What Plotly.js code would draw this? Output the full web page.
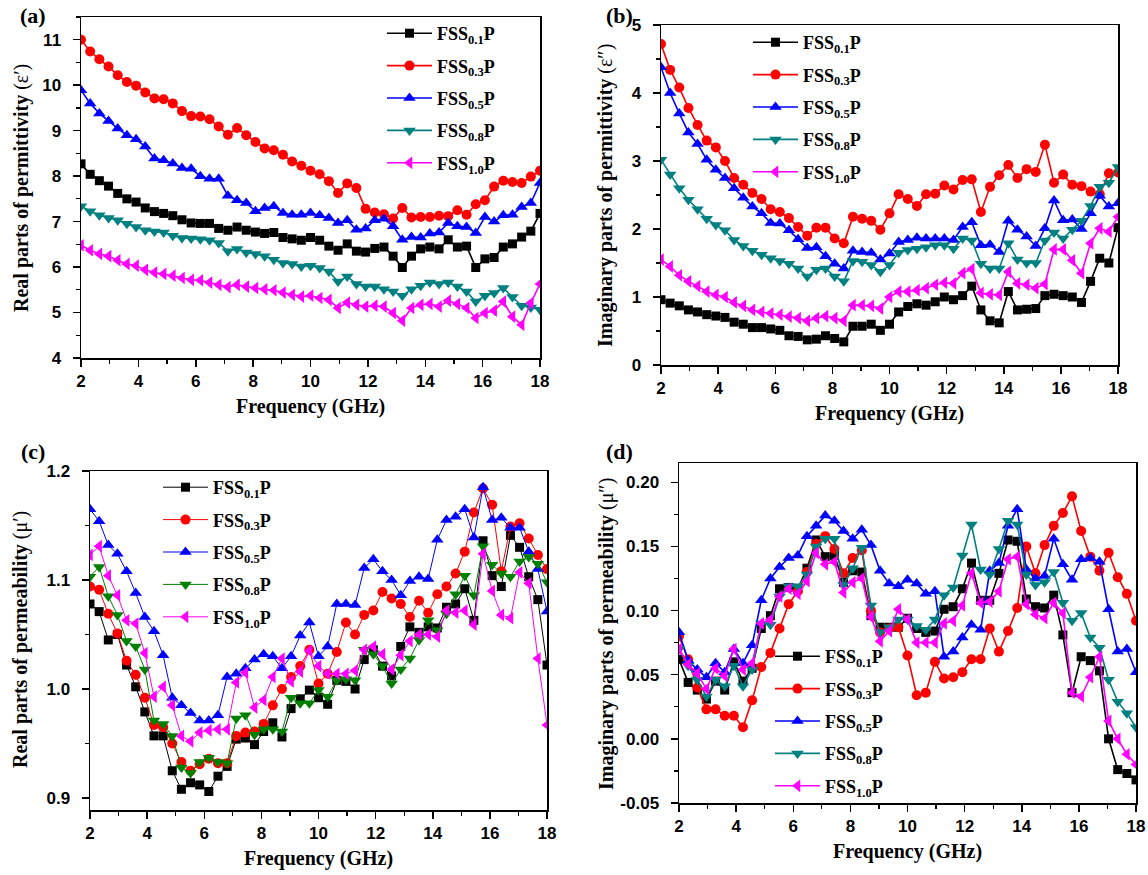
<!DOCTYPE html>
<html>
<head>
<meta charset="utf-8">
<script src="https://cdn.plot.ly/plotly-3.0.1.min.js"></script>
<style>
  html, body { margin: 0; padding: 0; background: #fff; }
  #chart { width: 1148px; height: 875px; }
</style>
</head>
<body>
<div id="chart"></div>
<script>
// Frequency sweep (GHz), 51 points from 2 to 18 GHz
const FREQ = [2.00, 2.32, 2.64, 2.96, 3.28, 3.60, 3.92, 4.24, 4.56, 4.88, 5.20, 5.52, 5.84, 6.16, 6.48, 6.80,
  7.12, 7.44, 7.76, 8.08, 8.40, 8.72, 9.04, 9.36, 9.68, 10.00, 10.32, 10.64, 10.96, 11.28, 11.60, 11.92,
  12.24, 12.56, 12.88, 13.20, 13.52, 13.84, 14.16, 14.48, 14.80, 15.12, 15.44, 15.76, 16.08, 16.40, 16.72,
  17.04, 17.36, 17.68, 18.00];

const SAMPLE_NAMES = ['FSS<sub>0.1</sub>P', 'FSS<sub>0.3</sub>P', 'FSS<sub>0.5</sub>P', 'FSS<sub>0.8</sub>P', 'FSS<sub>1.0</sub>P'];

// tick labels of the μ″ axis (plain hyphen for the negative value)
const MU_IM_TICKS = [-0.05, 0.00, 0.05, 0.10, 0.15, 0.20];
const MU_IM_TICK_TEXT = ['-0.05', '0.00', '0.05', '0.10', '0.15', '0.20'];

// (a) real permittivity ε′
const EPS_RE_01 = [8.27, 8.04, 7.90, 7.78, 7.62, 7.50, 7.43, 7.30, 7.22, 7.18, 7.13, 7.04, 6.97, 6.96, 6.96, 6.85, 6.81, 6.88, 6.81, 6.77, 6.74, 6.76, 6.65, 6.62, 6.59, 6.65,
  6.59, 6.46, 6.37, 6.51, 6.35, 6.33, 6.41, 6.44, 6.24, 5.99, 6.24, 6.40, 6.44, 6.40, 6.60, 6.44, 6.46, 5.99, 6.18, 6.21, 6.44, 6.51, 6.66, 6.79, 7.18];
const EPS_RE_03 = [11.00, 10.74, 10.57, 10.41, 10.22, 10.07, 9.99, 9.84, 9.71, 9.69, 9.60, 9.43, 9.32, 9.31, 9.25, 9.09, 8.91, 9.06, 8.90, 8.75, 8.61, 8.57, 8.47, 8.32, 8.23, 8.12,
  8.04, 7.89, 7.63, 7.84, 7.74, 7.28, 7.20, 7.16, 7.07, 7.30, 7.09, 7.10, 7.10, 7.13, 7.12, 7.25, 7.15, 7.38, 7.47, 7.77, 7.90, 7.87, 7.85, 7.99, 8.12];
const EPS_RE_05 = [9.89, 9.60, 9.38, 9.21, 9.05, 8.90, 8.81, 8.65, 8.39, 8.35, 8.28, 8.18, 8.16, 8.00, 7.94, 7.94, 7.57, 7.47, 7.41, 7.23, 7.30, 7.34, 7.19, 7.15, 7.15, 7.19,
  7.14, 7.08, 6.97, 7.03, 6.82, 6.85, 7.03, 7.06, 6.90, 6.60, 6.66, 6.65, 6.74, 6.76, 6.97, 6.90, 6.88, 6.75, 7.10, 7.00, 7.14, 7.15, 7.32, 7.41, 7.85];
const EPS_RE_08 = [7.34, 7.23, 7.14, 7.08, 7.03, 6.95, 6.88, 6.81, 6.78, 6.76, 6.69, 6.64, 6.63, 6.61, 6.59, 6.53, 6.35, 6.40, 6.32, 6.29, 6.24, 6.16, 6.09, 6.07, 6.01, 6.03,
  5.98, 5.90, 5.68, 5.79, 5.63, 5.57, 5.57, 5.51, 5.46, 5.37, 5.51, 5.59, 5.66, 5.63, 5.66, 5.57, 5.46, 5.24, 5.37, 5.43, 5.54, 5.34, 5.15, 5.11, 5.06];
const EPS_RE_10 = [6.48, 6.37, 6.29, 6.24, 6.15, 6.07, 6.03, 5.94, 5.88, 5.85, 5.81, 5.76, 5.72, 5.71, 5.66, 5.61, 5.56, 5.61, 5.57, 5.54, 5.51, 5.49, 5.44, 5.39, 5.35, 5.37,
  5.32, 5.28, 5.10, 5.22, 5.17, 5.13, 5.15, 5.13, 4.99, 4.82, 5.10, 5.17, 5.19, 5.13, 5.26, 5.19, 5.10, 4.88, 4.99, 5.04, 5.24, 4.91, 4.73, 5.21, 5.63];

// (b) imaginary permittivity ε″
const EPS_IM_01 = [0.96, 0.91, 0.87, 0.81, 0.78, 0.74, 0.72, 0.70, 0.63, 0.60, 0.55, 0.55, 0.53, 0.51, 0.43, 0.42, 0.37, 0.38, 0.43, 0.39, 0.34, 0.57, 0.57, 0.60, 0.51,
  0.60, 0.78, 0.86, 0.90, 0.88, 0.93, 1.00, 0.96, 1.02, 1.16, 0.81, 0.65, 0.62, 1.08, 0.81, 0.82, 0.83, 1.02, 1.04, 1.02, 1.00, 0.92, 1.23, 1.57, 1.50, 2.02];
const EPS_IM_03 = [4.72, 4.34, 4.08, 3.78, 3.53, 3.30, 3.20, 3.00, 2.75, 2.65, 2.53, 2.44, 2.29, 2.25, 2.16, 2.03, 1.90, 2.02, 2.02, 1.86, 1.79, 2.18, 2.15, 2.12, 1.99,
  2.23, 2.51, 2.44, 2.34, 2.51, 2.52, 2.64, 2.58, 2.72, 2.73, 2.25, 2.62, 2.79, 2.94, 2.75, 2.88, 2.84, 3.24, 2.68, 2.80, 2.65, 2.63, 2.55, 2.51, 2.82, 2.83];
const EPS_IM_05 = [4.38, 4.00, 3.70, 3.42, 3.25, 3.02, 2.87, 2.75, 2.60, 2.46, 2.33, 2.23, 2.09, 2.08, 1.98, 1.85, 1.72, 1.73, 1.60, 1.49, 1.42, 1.68, 1.66, 1.65, 1.55,
  1.64, 1.81, 1.84, 1.87, 1.86, 1.86, 1.86, 1.84, 2.03, 2.10, 1.76, 1.77, 1.66, 2.12, 1.99, 1.89, 1.75, 2.01, 2.42, 2.13, 2.14, 2.00, 2.23, 2.49, 2.33, 2.38];
const EPS_IM_08 = [3.02, 2.80, 2.60, 2.43, 2.29, 2.15, 2.06, 1.98, 1.84, 1.75, 1.68, 1.62, 1.57, 1.53, 1.49, 1.42, 1.30, 1.40, 1.42, 1.30, 1.23, 1.53, 1.52, 1.47, 1.37,
  1.47, 1.65, 1.69, 1.71, 1.73, 1.76, 1.76, 1.71, 1.86, 1.83, 1.49, 1.42, 1.42, 1.79, 1.55, 1.50, 1.50, 1.83, 1.95, 1.86, 1.99, 2.12, 2.34, 2.62, 2.68, 2.91];
const EPS_IM_10 = [1.55, 1.45, 1.32, 1.23, 1.16, 1.08, 1.03, 1.00, 0.92, 0.87, 0.81, 0.78, 0.76, 0.74, 0.71, 0.69, 0.65, 0.69, 0.72, 0.69, 0.65, 0.88, 0.88, 0.87, 0.83,
  1.00, 1.08, 1.08, 1.10, 1.13, 1.18, 1.21, 1.20, 1.35, 1.41, 1.06, 1.04, 1.03, 1.37, 1.20, 1.18, 1.13, 1.19, 1.70, 1.70, 1.54, 1.35, 1.79, 2.01, 1.96, 2.18];

// (c) real permeability μ′
const MU_RE_01 = [1.078, 1.071, 1.045, 1.050, 1.022, 1.002, 0.979, 0.957, 0.957, 0.925, 0.908, 0.914, 0.912, 0.906, 0.920, 0.929, 0.954, 0.955, 0.949, 0.961, 0.969, 0.956, 0.982, 0.991, 0.999,
  0.992, 0.986, 1.008, 1.007, 1.000, 1.027, 1.036, 1.021, 1.012, 1.039, 1.057, 1.052, 1.057, 1.056, 1.075, 1.078, 1.092, 1.063, 1.136, 1.104, 1.094, 1.141, 1.130, 1.103, 1.082, 1.022];
const MU_RE_03 = [1.094, 1.091, 1.069, 1.051, 1.026, 1.013, 0.992, 0.967, 0.965, 0.950, 0.933, 0.925, 0.931, 0.936, 0.932, 0.932, 0.957, 0.960, 0.961, 0.968, 0.985, 1.000, 1.011, 1.021, 1.036,
  1.005, 1.014, 1.034, 1.061, 1.050, 1.068, 1.072, 1.089, 1.083, 1.078, 1.066, 1.081, 1.070, 1.087, 1.094, 1.106, 1.126, 1.162, 1.184, 1.169, 1.108, 1.149, 1.152, 1.138, 1.123, 1.110];
const MU_RE_05 = [1.165, 1.154, 1.132, 1.124, 1.108, 1.088, 1.066, 1.053, 1.031, 0.992, 0.985, 0.978, 0.971, 0.971, 0.976, 1.011, 1.014, 1.019, 1.027, 1.032, 1.030, 1.019, 1.030, 1.049, 1.061,
  1.030, 1.039, 1.078, 1.078, 1.077, 1.111, 1.119, 1.108, 1.100, 1.086, 1.099, 1.103, 1.101, 1.137, 1.155, 1.158, 1.165, 1.139, 1.185, 1.155, 1.157, 1.148, 1.148, 1.126, 1.110, 1.071];
const MU_RE_08 = [1.103, 1.112, 1.085, 1.068, 1.044, 1.039, 1.018, 0.971, 0.968, 0.957, 0.928, 0.923, 0.933, 0.937, 0.933, 0.932, 0.973, 0.976, 0.958, 0.963, 0.963, 0.961, 0.992, 0.987, 0.987,
  0.999, 0.993, 1.008, 1.009, 1.008, 1.036, 1.032, 1.021, 1.005, 1.018, 1.028, 1.045, 1.063, 1.054, 1.069, 1.087, 1.104, 1.086, 1.131, 1.114, 1.106, 1.103, 1.117, 1.121, 1.115, 1.098];
const MU_RE_10 = [1.123, 1.131, 1.104, 1.086, 1.063, 1.060, 1.033, 0.993, 1.002, 0.985, 0.957, 0.952, 0.960, 0.962, 0.963, 0.963, 1.006, 1.015, 0.983, 0.990, 1.011, 1.028, 1.007, 1.016, 1.035,
  1.021, 1.014, 1.014, 1.014, 1.017, 1.036, 1.039, 1.032, 1.018, 1.031, 1.044, 1.050, 1.050, 1.048, 1.072, 1.070, 1.072, 1.059, 1.124, 1.090, 1.068, 1.065, 1.107, 1.097, 1.028, 0.967];

// (d) imaginary permeability μ″
const MU_IM_01 = [0.062, 0.044, 0.038, 0.031, 0.045, 0.038, 0.060, 0.045, 0.055, 0.086, 0.096, 0.117, 0.118, 0.117, 0.133, 0.155, 0.142, 0.143, 0.122, 0.131, 0.130, 0.096, 0.087, 0.087, 0.087,
  0.094, 0.086, 0.083, 0.084, 0.101, 0.103, 0.117, 0.137, 0.108, 0.108, 0.129, 0.155, 0.154, 0.109, 0.103, 0.102, 0.112, 0.081, 0.036, 0.064, 0.061, 0.053, 0.000, -0.024, -0.027, -0.032];
const MU_IM_03 = [0.080, 0.062, 0.040, 0.023, 0.023, 0.018, 0.018, 0.009, 0.030, 0.056, 0.067, 0.086, 0.105, 0.115, 0.130, 0.152, 0.158, 0.148, 0.129, 0.141, 0.147, 0.100, 0.083, 0.086, 0.087,
  0.065, 0.034, 0.036, 0.060, 0.047, 0.048, 0.052, 0.062, 0.062, 0.086, 0.068, 0.084, 0.102, 0.150, 0.129, 0.151, 0.166, 0.176, 0.189, 0.162, 0.142, 0.131, 0.145, 0.126, 0.113, 0.092];
const MU_IM_05 = [0.083, 0.061, 0.054, 0.048, 0.059, 0.052, 0.070, 0.059, 0.073, 0.108, 0.125, 0.134, 0.141, 0.143, 0.158, 0.166, 0.174, 0.170, 0.162, 0.156, 0.163, 0.151, 0.131, 0.121, 0.119,
  0.124, 0.121, 0.113, 0.115, 0.064, 0.068, 0.079, 0.089, 0.085, 0.131, 0.137, 0.166, 0.179, 0.132, 0.125, 0.127, 0.156, 0.136, 0.124, 0.140, 0.141, 0.138, 0.101, 0.068, 0.070, 0.052];
const MU_IM_08 = [0.070, 0.057, 0.046, 0.033, 0.046, 0.041, 0.057, 0.041, 0.054, 0.090, 0.089, 0.111, 0.119, 0.119, 0.128, 0.150, 0.156, 0.156, 0.120, 0.133, 0.149, 0.104, 0.083, 0.087, 0.093,
  0.093, 0.088, 0.085, 0.093, 0.112, 0.118, 0.143, 0.167, 0.132, 0.128, 0.148, 0.170, 0.167, 0.128, 0.120, 0.122, 0.130, 0.106, 0.092, 0.098, 0.079, 0.071, 0.046, 0.029, 0.020, 0.009];
const MU_IM_10 = [0.070, 0.058, 0.051, 0.039, 0.055, 0.049, 0.070, 0.054, 0.059, 0.090, 0.093, 0.111, 0.117, 0.113, 0.123, 0.145, 0.136, 0.138, 0.114, 0.122, 0.125, 0.095, 0.076, 0.084, 0.101,
  0.093, 0.075, 0.075, 0.075, 0.090, 0.092, 0.104, 0.129, 0.106, 0.107, 0.115, 0.140, 0.142, 0.105, 0.097, 0.094, 0.106, 0.098, 0.036, 0.033, 0.048, 0.064, 0.014, 0.000, -0.012, -0.020];

// ---- styling ----
const SERIF = 'Liberation Serif, Times New Roman, serif';
const SANS = 'Liberation Sans, Arial, sans-serif';
const SYMBOLS = ['square', 'circle', 'triangle-up', 'triangle-down', 'triangle-left'];
const SIZES = [9, 10, 11, 11, 11];
const COLORS_MAIN = ['#000000', '#ff0000', '#0000ff', '#008080', '#ff00ff'];
const COLORS_C = ['#000000', '#ff0000', '#0000ff', '#008000', '#ff00ff'];

function panelTraces(seriesList, xa, ya, legendId, colors, lineWidth) {
  return seriesList.map((ys, k) => ({
    type: 'scatter',
    mode: 'lines+markers',
    x: FREQ,
    y: ys,
    xaxis: xa,
    yaxis: ya,
    name: '<b>' + SAMPLE_NAMES[k] + '</b>',
    legend: legendId,
    legendgroup: legendId + '_' + k,
    line: { color: colors[k], width: lineWidth },
    marker: { symbol: SYMBOLS[k], size: SIZES[k], color: colors[k], line: { width: 0 } }
  }));
}

const traces = [
  ...panelTraces([EPS_RE_01, EPS_RE_03, EPS_RE_05, EPS_RE_08, EPS_RE_10], 'x', 'y', 'legend', COLORS_MAIN, 1.6),
  ...panelTraces([EPS_IM_01, EPS_IM_03, EPS_IM_05, EPS_IM_08, EPS_IM_10], 'x2', 'y2', 'legend2', COLORS_MAIN, 1.6),
  ...panelTraces([MU_RE_01, MU_RE_03, MU_RE_05, MU_RE_08, MU_RE_10], 'x3', 'y3', 'legend3', COLORS_C, 1.0),
  ...panelTraces([MU_IM_01, MU_IM_03, MU_IM_05, MU_IM_08, MU_IM_10], 'x4', 'y4', 'legend4', COLORS_MAIN, 1.6)
];

const W = 1148, H = 875;
const px = v => v / W;
const py = v => 1 - v / H;

const tickFont = { family: SANS, size: 17, weight: 'bold', color: '#000' };

function xAxis(domain, anchor) {
  return {
    domain: domain, anchor: anchor, range: [2, 18], dtick: 2, tick0: 2,
    showgrid: false, zeroline: false,
    showline: true, mirror: true, linecolor: '#000', linewidth: 1.5,
    ticks: 'outside', ticklen: 7, tickwidth: 1.5, tickcolor: '#000',
    minor: { dtick: 1, ticks: 'outside', ticklen: 4, tickwidth: 1.2, tickcolor: '#000', showgrid: false },
    tickfont: tickFont, ticklabelstandoff: 0
  };
}
function yAxis(domain, anchor, range, dtick, minorDtick, fmt) {
  return {
    domain: domain, anchor: anchor, range: range, dtick: dtick, tick0: 0,
    tickformat: fmt,
    showgrid: false, zeroline: false,
    showline: true, mirror: true, linecolor: '#000', linewidth: 1.5,
    ticks: 'outside', ticklen: 7, tickwidth: 1.5, tickcolor: '#000',
    minor: { dtick: minorDtick, tick0: 0, ticks: 'outside', ticklen: 4, tickwidth: 1.2, tickcolor: '#000', showgrid: false },
    tickfont: tickFont, ticklabelstandoff: 8
  };
}
// top / right frame ticks, pointing into the plot
function topAxis(over, anchor) {
  return {
    overlaying: over, anchor: anchor, side: 'top', range: [2, 18], dtick: 2, tick0: 2,
    showgrid: false, zeroline: false, showline: false, showticklabels: false,
    ticks: 'inside', ticklen: 6, tickwidth: 1.5, tickcolor: '#000',
    minor: { dtick: 1, ticks: 'inside', ticklen: 3.5, tickwidth: 1.2, tickcolor: '#000', showgrid: false }
  };
}
function rightAxis(over, anchor, range, dtick, minorDtick) {
  return {
    overlaying: over, anchor: anchor, side: 'right', range: range, dtick: dtick, tick0: 0,
    showgrid: false, zeroline: false, showline: false, showticklabels: false,
    ticks: 'inside', ticklen: 6, tickwidth: 1.5, tickcolor: '#000',
    minor: { dtick: minorDtick, ticks: 'inside', ticklen: 3.5, tickwidth: 1.2, tickcolor: '#000', showgrid: false }
  };
}

const dA = { x: [px(81), px(540)], y: [py(358), py(17)] };
const dB = { x: [px(661), px(1118)], y: [py(365), py(25)] };
const dC = { x: [px(90), px(547)], y: [py(810), py(471)] };
const dD = { x: [px(679), px(1136)], y: [py(803), py(463)] };

const rA = [4, 11.5], rB = [0, 5], rC = [0.889, 1.2], rD = [-0.05, 0.215];

function legendAt(x, y) {
  return {
    x: x, y: y, xanchor: 'left', yanchor: 'top',
    bgcolor: 'rgba(0,0,0,0)', borderwidth: 0,
    font: { family: SERIF, size: 18, color: '#000' },
    itemwidth: 45, tracegroupgap: 6, itemclick: false
  };
}

function ann(text, x, y, angle, size) {
  return {
    text: text, xref: 'paper', yref: 'paper', x: px(x), y: py(y),
    xanchor: 'center', yanchor: 'middle', showarrow: false, textangle: angle || 0,
    font: { family: SERIF, size: size || 20, color: '#000' }
  };
}

const yaxis4 = yAxis(dD.y, 'x4', rD, 0.05, 0.025, '.2f');
yaxis4.tickmode = 'array';
yaxis4.tickvals = MU_IM_TICKS;
yaxis4.ticktext = MU_IM_TICK_TEXT;

const layout = {
  width: W, height: H,
  margin: { l: 0, r: 0, t: 0, b: 0 },
  paper_bgcolor: '#fff', plot_bgcolor: 'rgba(0,0,0,0)',
  showlegend: true,
  font: { family: SERIF, color: '#000' },
  xaxis: xAxis(dA.x, 'y'),
  yaxis: yAxis(dA.y, 'x', rA, 1, 0.5, 'd'),
  xaxis2: xAxis(dB.x, 'y2'),
  yaxis2: yAxis(dB.y, 'x2', rB, 1, 0.5, 'd'),
  xaxis3: xAxis(dC.x, 'y3'),
  yaxis3: yAxis(dC.y, 'x3', rC, 0.1, 0.05, '.1f'),
  xaxis4: xAxis(dD.x, 'y4'),
  yaxis4: yaxis4,
  xaxis5: topAxis('x', 'y'),
  yaxis5: rightAxis('y', 'x', rA, 1, 0.5),
  xaxis6: topAxis('x2', 'y2'),
  yaxis6: rightAxis('y2', 'x2', rB, 1, 0.5),
  xaxis7: topAxis('x3', 'y3'),
  yaxis7: rightAxis('y3', 'x3', rC, 0.1, 0.05),
  xaxis8: topAxis('x4', 'y4'),
  yaxis8: rightAxis('y4', 'x4', rD, 0.05, 0.025),
  legend: legendAt(px(382), py(15)),
  legend2: legendAt(px(748), py(24)),
  legend3: legendAt(px(158), py(469)),
  legend4: legendAt(px(770), py(638)),
  annotations: [
    ann('<b>(a)</b>', 33, 16, 0, 22),
    ann('<b>(b)</b>', 619, 16, 0, 22),
    ann('<b>(c)</b>', 33, 451, 0, 22),
    ann('<b>(d)</b>', 619, 451, 0, 22),
    ann('<b>Real parts of permittivity</b> (ε′)', 21, 188, -90),
    ann('<b>Frequency (GHz)</b>', 310, 406),
    ann('<b>Imaginary parts of permittivity</b> (ε″)', 606, 196, -90),
    ann('<b>Frequency (GHz)</b>', 889, 413),
    ann('<b>Real parts of permeability</b> (μ′)', 20, 640, -90),
    ann('<b>Frequency (GHz)</b>', 318, 858),
    ann('<b>Imaginary parts of permeability</b> (μ″)', 606, 634, -90),
    ann('<b>Frequency (GHz)</b>', 907, 851)
  ]
};

Plotly.newPlot('chart', traces, layout, { displayModeBar: false, staticPlot: true });
</script>
</body>
</html>
